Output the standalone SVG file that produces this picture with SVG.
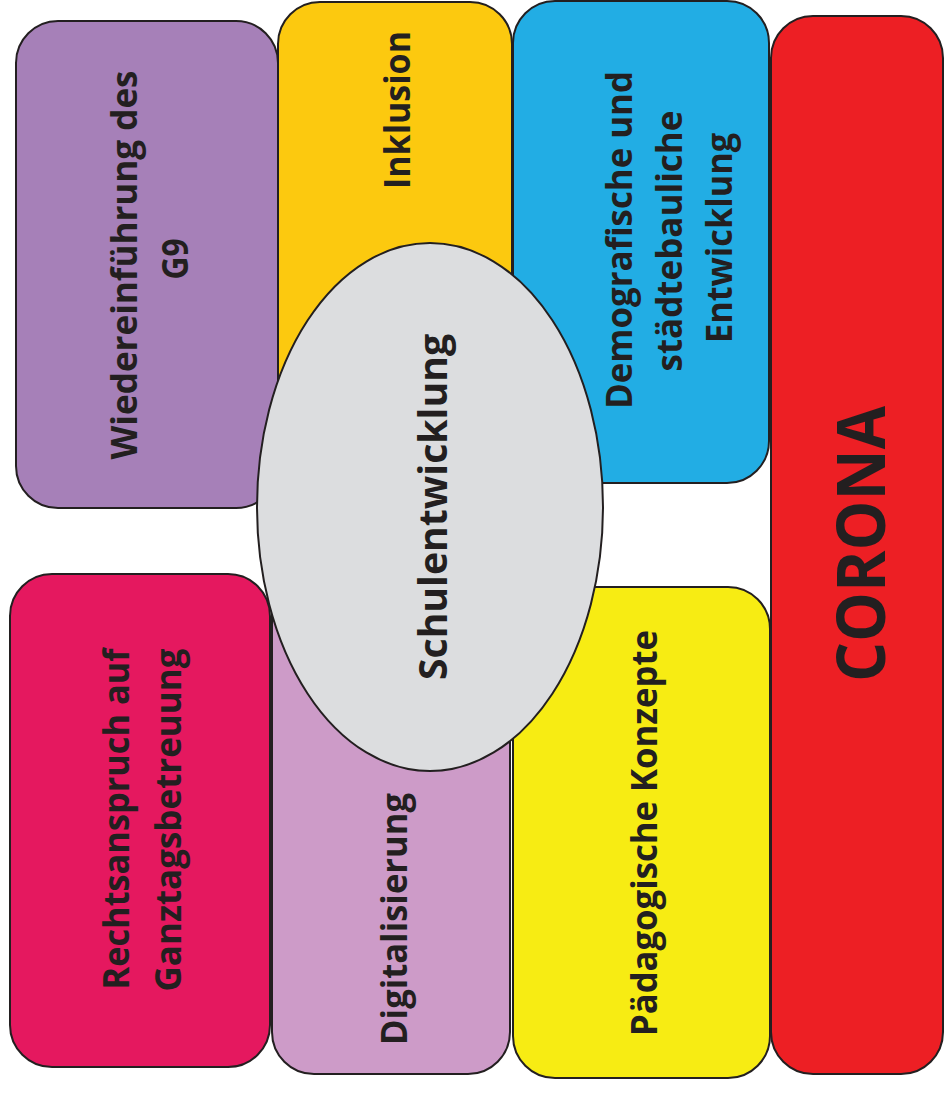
<svg xmlns="http://www.w3.org/2000/svg" width="944" height="1093" viewBox="0 0 944 1093">
<style>
.box{stroke:#231F20;stroke-width:2}
.t{font-family:"Open Sans","Noto Sans",sans-serif;font-weight:700;font-size:36px;fill:#231F20;text-anchor:middle}
</style>
<rect width="944" height="1093" fill="#ffffff"/>
<g id="connectors"></g>
<g id="g9">
<rect class="box" x="16" y="21" width="262" height="487" rx="42" fill="#A680B8"/>
<text class="t" transform="translate(137,265) rotate(-90)" textLength="389" lengthAdjust="spacingAndGlyphs">Wiedereinführung des</text>
<text class="t" transform="translate(188,259) rotate(-90)" textLength="41" lengthAdjust="spacingAndGlyphs">G9</text>
</g>
<g id="inklusion">
<rect class="box" x="278" y="2" width="234" height="498" rx="42" fill="#FCC90F"/>
<text class="t" transform="translate(410,110) rotate(-90)" textLength="158" lengthAdjust="spacingAndGlyphs">Inklusion</text>
</g>
<g id="demografie">
<rect class="box" x="513" y="1" width="256" height="482" rx="42" fill="#22ADE4"/>
<text class="t" transform="translate(632,240) rotate(-90)" textLength="338" lengthAdjust="spacingAndGlyphs">Demografische und</text>
<text class="t" transform="translate(682,241) rotate(-90)" textLength="261" lengthAdjust="spacingAndGlyphs">städtebauliche</text>
<text class="t" transform="translate(732,238) rotate(-90)" textLength="210" lengthAdjust="spacingAndGlyphs">Entwicklung</text>
</g>
<g id="corona">
<rect class="box" x="771" y="16" width="172" height="1058" rx="42" fill="#ED1F24"/>
<text class="t" style="font-size:66px" transform="translate(885,544) rotate(-90)" textLength="276" lengthAdjust="spacingAndGlyphs">CORONA</text>
</g>
<g id="rechtsanspruch">
<rect class="box" x="10" y="574" width="260" height="493" rx="42" fill="#E5185F"/>
<text class="t" transform="translate(129,819) rotate(-90)" textLength="341" lengthAdjust="spacingAndGlyphs">Rechtsanspruch auf</text>
<text class="t" transform="translate(181,820) rotate(-90)" textLength="343" lengthAdjust="spacingAndGlyphs">Ganztagsbetreuung</text>
</g>
<g id="digitalisierung">
<rect class="box" x="272" y="520" width="238" height="554" rx="42" fill="#CD9BC8"/>
<text class="t" transform="translate(407,919) rotate(-90)" textLength="252" lengthAdjust="spacingAndGlyphs">Digitalisierung</text>
</g>
<g id="paedagogik">
<rect class="box" x="513" y="587" width="257" height="491" rx="42" fill="#F7EC13"/>
<text class="t" transform="translate(657,833) rotate(-90)" textLength="406" lengthAdjust="spacingAndGlyphs">Pädagogische Konzepte</text>
</g>
<g id="schulentwicklung">
<ellipse class="box" cx="430" cy="507" rx="173" ry="264" fill="#DCDDDF"/>
<text class="t" style="font-size:40px" transform="translate(447,507) rotate(-90)" textLength="346" lengthAdjust="spacingAndGlyphs">Schulentwicklung</text>
</g>
</svg>
